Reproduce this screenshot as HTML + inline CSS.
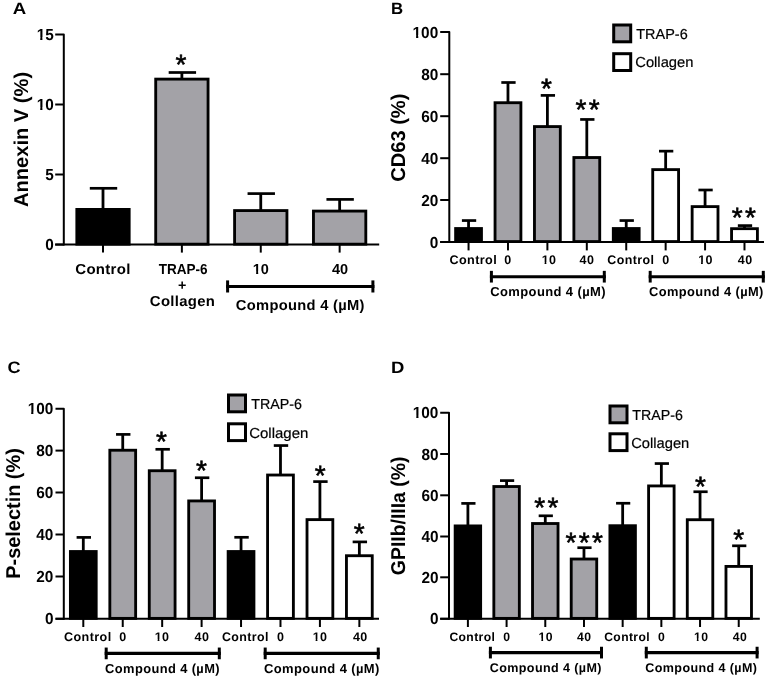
<!DOCTYPE html>
<html><head><meta charset="utf-8"><style>
html,body{margin:0;padding:0;background:#fff;}
svg{display:block;will-change:transform;font-family:"Liberation Sans",sans-serif;}
</style></head><body>
<svg width="767" height="678" viewBox="0 0 767 678" text-rendering="geometricPrecision">
<rect width="767" height="678" fill="#fff"/>
<path d="M55.20,34.40 H63.80 V245.60" fill="none" stroke="#000" stroke-width="2.0" stroke-linejoin="round"/>
<line x1="55.20" y1="244.60" x2="379.20" y2="244.60" stroke="#000" stroke-width="2.0"/>
<line x1="55.20" y1="104.50" x2="63.80" y2="104.50" stroke="#000" stroke-width="2.0"/>
<line x1="55.20" y1="174.50" x2="63.80" y2="174.50" stroke="#000" stroke-width="2.0"/>
<line x1="55.20" y1="244.60" x2="63.80" y2="244.60" stroke="#000" stroke-width="2.0"/>
<line x1="103.00" y1="209.00" x2="103.00" y2="188.30" stroke="#000" stroke-width="2.8"/>
<line x1="89.80" y1="188.30" x2="117.20" y2="188.30" stroke="#000" stroke-width="2.7"/>
<rect x="76.83" y="209.43" width="52.35" height="34.75" fill="#000" stroke="#000" stroke-width="2.85"/>
<line x1="103.00" y1="244.60" x2="103.00" y2="252.60" stroke="#000" stroke-width="2.0"/>
<line x1="181.88" y1="78.70" x2="181.88" y2="72.50" stroke="#000" stroke-width="2.8"/>
<line x1="168.68" y1="72.50" x2="196.08" y2="72.50" stroke="#000" stroke-width="2.7"/>
<rect x="155.71" y="79.12" width="52.35" height="165.05" fill="#a3a2a7" stroke="#000" stroke-width="2.85"/>
<line x1="181.88" y1="244.60" x2="181.88" y2="252.60" stroke="#000" stroke-width="2.0"/>
<line x1="260.76" y1="210.15" x2="260.76" y2="193.60" stroke="#000" stroke-width="2.8"/>
<line x1="247.56" y1="193.60" x2="274.96" y2="193.60" stroke="#000" stroke-width="2.7"/>
<rect x="234.59" y="210.58" width="52.35" height="33.60" fill="#a3a2a7" stroke="#000" stroke-width="2.85"/>
<line x1="260.76" y1="244.60" x2="260.76" y2="252.60" stroke="#000" stroke-width="2.0"/>
<line x1="339.64" y1="210.65" x2="339.64" y2="199.40" stroke="#000" stroke-width="2.8"/>
<line x1="326.44" y1="199.40" x2="353.84" y2="199.40" stroke="#000" stroke-width="2.7"/>
<rect x="313.46" y="211.08" width="52.35" height="33.10" fill="#a3a2a7" stroke="#000" stroke-width="2.85"/>
<line x1="339.64" y1="244.60" x2="339.64" y2="252.60" stroke="#000" stroke-width="2.0"/>
<line x1="226.10" y1="286.45" x2="374.40" y2="286.45" stroke="#000" stroke-width="3.1"/>
<line x1="227.60" y1="280.40" x2="227.60" y2="292.50" stroke="#000" stroke-width="3.0"/>
<line x1="372.90" y1="280.40" x2="372.90" y2="292.50" stroke="#000" stroke-width="3.0"/>
<path d="M440.20,32.00 H449.30 V243.00" fill="none" stroke="#000" stroke-width="2.0" stroke-linejoin="round"/>
<line x1="440.20" y1="242.00" x2="764.00" y2="242.00" stroke="#000" stroke-width="2.0"/>
<line x1="440.20" y1="74.20" x2="449.30" y2="74.20" stroke="#000" stroke-width="2.0"/>
<line x1="440.20" y1="116.20" x2="449.30" y2="116.20" stroke="#000" stroke-width="2.0"/>
<line x1="440.20" y1="158.20" x2="449.30" y2="158.20" stroke="#000" stroke-width="2.0"/>
<line x1="440.20" y1="200.00" x2="449.30" y2="200.00" stroke="#000" stroke-width="2.0"/>
<line x1="440.20" y1="242.00" x2="449.30" y2="242.00" stroke="#000" stroke-width="2.0"/>
<line x1="468.55" y1="228.10" x2="468.55" y2="220.55" stroke="#000" stroke-width="2.8"/>
<line x1="461.90" y1="220.55" x2="476.20" y2="220.55" stroke="#000" stroke-width="2.7"/>
<rect x="455.62" y="228.53" width="25.85" height="13.05" fill="#000" stroke="#000" stroke-width="2.85"/>
<line x1="468.55" y1="242.00" x2="468.55" y2="250.40" stroke="#000" stroke-width="2.0"/>
<line x1="507.97" y1="102.30" x2="507.97" y2="82.50" stroke="#000" stroke-width="2.8"/>
<line x1="501.32" y1="82.50" x2="515.62" y2="82.50" stroke="#000" stroke-width="2.7"/>
<rect x="495.05" y="102.72" width="25.85" height="138.85" fill="#a3a2a7" stroke="#000" stroke-width="2.85"/>
<line x1="507.97" y1="242.00" x2="507.97" y2="250.40" stroke="#000" stroke-width="2.0"/>
<line x1="547.39" y1="126.15" x2="547.39" y2="95.40" stroke="#000" stroke-width="2.8"/>
<line x1="540.74" y1="95.40" x2="555.04" y2="95.40" stroke="#000" stroke-width="2.7"/>
<rect x="534.46" y="126.58" width="25.85" height="115.00" fill="#a3a2a7" stroke="#000" stroke-width="2.85"/>
<line x1="547.39" y1="242.00" x2="547.39" y2="250.40" stroke="#000" stroke-width="2.0"/>
<line x1="586.81" y1="157.10" x2="586.81" y2="119.45" stroke="#000" stroke-width="2.8"/>
<line x1="580.16" y1="119.45" x2="594.46" y2="119.45" stroke="#000" stroke-width="2.7"/>
<rect x="573.88" y="157.53" width="25.85" height="84.05" fill="#a3a2a7" stroke="#000" stroke-width="2.85"/>
<line x1="586.81" y1="242.00" x2="586.81" y2="250.40" stroke="#000" stroke-width="2.0"/>
<line x1="626.23" y1="228.10" x2="626.23" y2="220.55" stroke="#000" stroke-width="2.8"/>
<line x1="619.58" y1="220.55" x2="633.88" y2="220.55" stroke="#000" stroke-width="2.7"/>
<rect x="613.30" y="228.53" width="25.85" height="13.05" fill="#000" stroke="#000" stroke-width="2.85"/>
<line x1="626.23" y1="242.00" x2="626.23" y2="250.40" stroke="#000" stroke-width="2.0"/>
<line x1="665.65" y1="169.20" x2="665.65" y2="151.15" stroke="#000" stroke-width="2.8"/>
<line x1="659.00" y1="151.15" x2="673.30" y2="151.15" stroke="#000" stroke-width="2.7"/>
<rect x="652.73" y="169.62" width="25.85" height="71.95" fill="#fff" stroke="#000" stroke-width="2.85"/>
<line x1="665.65" y1="242.00" x2="665.65" y2="250.40" stroke="#000" stroke-width="2.0"/>
<line x1="705.07" y1="206.20" x2="705.07" y2="190.00" stroke="#000" stroke-width="2.8"/>
<line x1="698.42" y1="190.00" x2="712.72" y2="190.00" stroke="#000" stroke-width="2.7"/>
<rect x="692.14" y="206.62" width="25.85" height="34.95" fill="#fff" stroke="#000" stroke-width="2.85"/>
<line x1="705.07" y1="242.00" x2="705.07" y2="250.40" stroke="#000" stroke-width="2.0"/>
<line x1="744.49" y1="228.25" x2="744.49" y2="225.60" stroke="#000" stroke-width="2.8"/>
<line x1="737.84" y1="225.60" x2="752.14" y2="225.60" stroke="#000" stroke-width="2.7"/>
<rect x="731.56" y="228.68" width="25.85" height="12.90" fill="#fff" stroke="#000" stroke-width="2.85"/>
<line x1="744.49" y1="242.00" x2="744.49" y2="250.40" stroke="#000" stroke-width="2.0"/>
<rect x="613.7" y="25.0" width="17.0" height="16.8" fill="#a3a2a7" stroke="#000" stroke-width="3.0"/>
<rect x="613.7" y="53.7" width="17.0" height="16.8" fill="#fff" stroke="#000" stroke-width="3.0"/>
<line x1="489.90" y1="276.70" x2="605.80" y2="276.70" stroke="#000" stroke-width="3.1"/>
<line x1="491.40" y1="270.85" x2="491.40" y2="282.55" stroke="#000" stroke-width="3.0"/>
<line x1="604.30" y1="270.85" x2="604.30" y2="282.55" stroke="#000" stroke-width="3.0"/>
<line x1="648.70" y1="276.70" x2="764.80" y2="276.70" stroke="#000" stroke-width="3.1"/>
<line x1="650.20" y1="270.85" x2="650.20" y2="282.55" stroke="#000" stroke-width="3.0"/>
<line x1="763.30" y1="270.85" x2="763.30" y2="282.55" stroke="#000" stroke-width="3.0"/>
<path d="M55.50,408.80 H63.80 V619.80" fill="none" stroke="#000" stroke-width="2.0" stroke-linejoin="round"/>
<line x1="55.50" y1="618.80" x2="379.00" y2="618.80" stroke="#000" stroke-width="2.0"/>
<line x1="55.50" y1="450.60" x2="63.80" y2="450.60" stroke="#000" stroke-width="2.0"/>
<line x1="55.50" y1="492.50" x2="63.80" y2="492.50" stroke="#000" stroke-width="2.0"/>
<line x1="55.50" y1="534.50" x2="63.80" y2="534.50" stroke="#000" stroke-width="2.0"/>
<line x1="55.50" y1="576.50" x2="63.80" y2="576.50" stroke="#000" stroke-width="2.0"/>
<line x1="55.50" y1="618.80" x2="63.80" y2="618.80" stroke="#000" stroke-width="2.0"/>
<line x1="83.30" y1="551.10" x2="83.30" y2="537.40" stroke="#000" stroke-width="2.8"/>
<line x1="76.60" y1="537.40" x2="91.00" y2="537.40" stroke="#000" stroke-width="2.7"/>
<rect x="70.40" y="551.52" width="25.80" height="66.85" fill="#000" stroke="#000" stroke-width="2.85"/>
<line x1="83.30" y1="618.80" x2="83.30" y2="627.00" stroke="#000" stroke-width="2.0"/>
<line x1="122.74" y1="449.80" x2="122.74" y2="434.40" stroke="#000" stroke-width="2.8"/>
<line x1="116.04" y1="434.40" x2="130.44" y2="434.40" stroke="#000" stroke-width="2.7"/>
<rect x="109.84" y="450.23" width="25.80" height="168.15" fill="#a3a2a7" stroke="#000" stroke-width="2.85"/>
<line x1="122.74" y1="618.80" x2="122.74" y2="627.00" stroke="#000" stroke-width="2.0"/>
<line x1="162.17" y1="470.30" x2="162.17" y2="449.30" stroke="#000" stroke-width="2.8"/>
<line x1="155.47" y1="449.30" x2="169.87" y2="449.30" stroke="#000" stroke-width="2.7"/>
<rect x="149.27" y="470.73" width="25.80" height="147.65" fill="#a3a2a7" stroke="#000" stroke-width="2.85"/>
<line x1="162.17" y1="618.80" x2="162.17" y2="627.00" stroke="#000" stroke-width="2.0"/>
<line x1="201.61" y1="500.50" x2="201.61" y2="477.75" stroke="#000" stroke-width="2.8"/>
<line x1="194.91" y1="477.75" x2="209.31" y2="477.75" stroke="#000" stroke-width="2.7"/>
<rect x="188.71" y="500.93" width="25.80" height="117.45" fill="#a3a2a7" stroke="#000" stroke-width="2.85"/>
<line x1="201.61" y1="618.80" x2="201.61" y2="627.00" stroke="#000" stroke-width="2.0"/>
<line x1="241.04" y1="551.10" x2="241.04" y2="537.30" stroke="#000" stroke-width="2.8"/>
<line x1="234.34" y1="537.30" x2="248.74" y2="537.30" stroke="#000" stroke-width="2.7"/>
<rect x="228.14" y="551.52" width="25.80" height="66.85" fill="#000" stroke="#000" stroke-width="2.85"/>
<line x1="241.04" y1="618.80" x2="241.04" y2="627.00" stroke="#000" stroke-width="2.0"/>
<line x1="280.48" y1="474.60" x2="280.48" y2="445.55" stroke="#000" stroke-width="2.8"/>
<line x1="273.78" y1="445.55" x2="288.18" y2="445.55" stroke="#000" stroke-width="2.7"/>
<rect x="267.58" y="475.03" width="25.80" height="143.35" fill="#fff" stroke="#000" stroke-width="2.85"/>
<line x1="280.48" y1="618.80" x2="280.48" y2="627.00" stroke="#000" stroke-width="2.0"/>
<line x1="319.92" y1="519.20" x2="319.92" y2="481.60" stroke="#000" stroke-width="2.8"/>
<line x1="313.22" y1="481.60" x2="327.62" y2="481.60" stroke="#000" stroke-width="2.7"/>
<rect x="307.02" y="519.62" width="25.80" height="98.75" fill="#fff" stroke="#000" stroke-width="2.85"/>
<line x1="319.92" y1="618.80" x2="319.92" y2="627.00" stroke="#000" stroke-width="2.0"/>
<line x1="359.35" y1="555.30" x2="359.35" y2="541.90" stroke="#000" stroke-width="2.8"/>
<line x1="352.65" y1="541.90" x2="367.05" y2="541.90" stroke="#000" stroke-width="2.7"/>
<rect x="346.45" y="555.72" width="25.80" height="62.65" fill="#fff" stroke="#000" stroke-width="2.85"/>
<line x1="359.35" y1="618.80" x2="359.35" y2="627.00" stroke="#000" stroke-width="2.0"/>
<rect x="228.5" y="395.0" width="17.0" height="16.8" fill="#a3a2a7" stroke="#000" stroke-width="3.0"/>
<rect x="228.5" y="423.8" width="17.0" height="16.8" fill="#fff" stroke="#000" stroke-width="3.0"/>
<line x1="104.70" y1="653.40" x2="220.80" y2="653.40" stroke="#000" stroke-width="3.1"/>
<line x1="106.20" y1="647.55" x2="106.20" y2="659.25" stroke="#000" stroke-width="3.0"/>
<line x1="219.30" y1="647.55" x2="219.30" y2="659.25" stroke="#000" stroke-width="3.0"/>
<line x1="263.70" y1="653.40" x2="379.75" y2="653.40" stroke="#000" stroke-width="3.1"/>
<line x1="265.20" y1="647.55" x2="265.20" y2="659.25" stroke="#000" stroke-width="3.0"/>
<line x1="378.25" y1="647.55" x2="378.25" y2="659.25" stroke="#000" stroke-width="3.0"/>
<path d="M440.20,412.80 H449.00 V619.80" fill="none" stroke="#000" stroke-width="2.0" stroke-linejoin="round"/>
<line x1="440.20" y1="618.80" x2="759.80" y2="618.80" stroke="#000" stroke-width="2.0"/>
<line x1="440.20" y1="454.00" x2="449.00" y2="454.00" stroke="#000" stroke-width="2.0"/>
<line x1="440.20" y1="495.30" x2="449.00" y2="495.30" stroke="#000" stroke-width="2.0"/>
<line x1="440.20" y1="536.50" x2="449.00" y2="536.50" stroke="#000" stroke-width="2.0"/>
<line x1="440.20" y1="577.30" x2="449.00" y2="577.30" stroke="#000" stroke-width="2.0"/>
<line x1="440.20" y1="618.80" x2="449.00" y2="618.80" stroke="#000" stroke-width="2.0"/>
<line x1="467.90" y1="525.50" x2="467.90" y2="503.40" stroke="#000" stroke-width="2.8"/>
<line x1="461.30" y1="503.40" x2="475.50" y2="503.40" stroke="#000" stroke-width="2.7"/>
<rect x="455.15" y="525.92" width="25.50" height="92.45" fill="#000" stroke="#000" stroke-width="2.85"/>
<line x1="467.90" y1="618.80" x2="467.90" y2="627.00" stroke="#000" stroke-width="2.0"/>
<line x1="506.59" y1="486.10" x2="506.59" y2="480.60" stroke="#000" stroke-width="2.8"/>
<line x1="499.99" y1="480.60" x2="514.19" y2="480.60" stroke="#000" stroke-width="2.7"/>
<rect x="493.84" y="486.53" width="25.50" height="131.85" fill="#a3a2a7" stroke="#000" stroke-width="2.85"/>
<line x1="506.59" y1="618.80" x2="506.59" y2="627.00" stroke="#000" stroke-width="2.0"/>
<line x1="545.28" y1="523.10" x2="545.28" y2="515.80" stroke="#000" stroke-width="2.8"/>
<line x1="538.68" y1="515.80" x2="552.88" y2="515.80" stroke="#000" stroke-width="2.7"/>
<rect x="532.53" y="523.52" width="25.50" height="94.85" fill="#a3a2a7" stroke="#000" stroke-width="2.85"/>
<line x1="545.28" y1="618.80" x2="545.28" y2="627.00" stroke="#000" stroke-width="2.0"/>
<line x1="583.97" y1="558.60" x2="583.97" y2="547.70" stroke="#000" stroke-width="2.8"/>
<line x1="577.37" y1="547.70" x2="591.57" y2="547.70" stroke="#000" stroke-width="2.7"/>
<rect x="571.22" y="559.02" width="25.50" height="59.35" fill="#a3a2a7" stroke="#000" stroke-width="2.85"/>
<line x1="583.97" y1="618.80" x2="583.97" y2="627.00" stroke="#000" stroke-width="2.0"/>
<line x1="622.66" y1="525.30" x2="622.66" y2="503.25" stroke="#000" stroke-width="2.8"/>
<line x1="616.06" y1="503.25" x2="630.26" y2="503.25" stroke="#000" stroke-width="2.7"/>
<rect x="609.91" y="525.72" width="25.50" height="92.65" fill="#000" stroke="#000" stroke-width="2.85"/>
<line x1="622.66" y1="618.80" x2="622.66" y2="627.00" stroke="#000" stroke-width="2.0"/>
<line x1="661.35" y1="485.50" x2="661.35" y2="463.55" stroke="#000" stroke-width="2.8"/>
<line x1="654.75" y1="463.55" x2="668.95" y2="463.55" stroke="#000" stroke-width="2.7"/>
<rect x="648.60" y="485.93" width="25.50" height="132.45" fill="#fff" stroke="#000" stroke-width="2.85"/>
<line x1="661.35" y1="618.80" x2="661.35" y2="627.00" stroke="#000" stroke-width="2.0"/>
<line x1="700.04" y1="519.30" x2="700.04" y2="491.75" stroke="#000" stroke-width="2.8"/>
<line x1="693.44" y1="491.75" x2="707.64" y2="491.75" stroke="#000" stroke-width="2.7"/>
<rect x="687.29" y="519.72" width="25.50" height="98.65" fill="#fff" stroke="#000" stroke-width="2.85"/>
<line x1="700.04" y1="618.80" x2="700.04" y2="627.00" stroke="#000" stroke-width="2.0"/>
<line x1="738.73" y1="566.00" x2="738.73" y2="545.80" stroke="#000" stroke-width="2.8"/>
<line x1="732.13" y1="545.80" x2="746.33" y2="545.80" stroke="#000" stroke-width="2.7"/>
<rect x="725.98" y="566.42" width="25.50" height="51.95" fill="#fff" stroke="#000" stroke-width="2.85"/>
<line x1="738.73" y1="618.80" x2="738.73" y2="627.00" stroke="#000" stroke-width="2.0"/>
<rect x="610.0" y="406.0" width="17.0" height="16.8" fill="#a3a2a7" stroke="#000" stroke-width="3.0"/>
<rect x="610.0" y="433.8" width="17.0" height="16.8" fill="#fff" stroke="#000" stroke-width="3.0"/>
<line x1="488.90" y1="652.60" x2="603.00" y2="652.60" stroke="#000" stroke-width="3.1"/>
<line x1="490.40" y1="646.75" x2="490.40" y2="658.45" stroke="#000" stroke-width="3.0"/>
<line x1="601.50" y1="646.75" x2="601.50" y2="658.45" stroke="#000" stroke-width="3.0"/>
<line x1="644.80" y1="652.60" x2="758.60" y2="652.60" stroke="#000" stroke-width="3.1"/>
<line x1="646.30" y1="646.75" x2="646.30" y2="658.45" stroke="#000" stroke-width="3.0"/>
<line x1="757.10" y1="646.75" x2="757.10" y2="658.45" stroke="#000" stroke-width="3.0"/>
<text transform="translate(12.77,14.40) scale(1.130,1)" font-size="16.5" font-weight="bold">A</text>
<text transform="translate(36.68,40.00) scale(0.960,1)" font-size="16" font-weight="bold">15</text>
<g transform="translate(36.68,40.00) scale(0.960,1)" fill="#fff"><rect x="0.01" y="-2.63" width="3.69" height="3.63"/><rect x="5.97" y="-2.63" width="3.52" height="3.63"/></g>
<text transform="translate(36.68,110.10) scale(0.960,1)" font-size="16" font-weight="bold">10</text>
<g transform="translate(36.68,110.10) scale(0.960,1)" fill="#fff"><rect x="0.01" y="-2.63" width="3.69" height="3.63"/><rect x="5.97" y="-2.63" width="3.52" height="3.63"/></g>
<text transform="translate(45.32,180.10) scale(0.960,1)" font-size="16" font-weight="bold">5</text>
<text transform="translate(45.32,250.20) scale(0.960,1)" font-size="16" font-weight="bold">0</text>
<text transform="translate(175.60,73.60) scale(1.000,1)" font-size="28" font-weight="normal" stroke="#000" stroke-width="0.6">*</text>
<text transform="translate(28.20,207.11) rotate(-90) scale(1.006,1)" font-size="20" font-weight="bold">Annexin V (%)</text>
<text transform="translate(75.27,273.60) scale(1.033,1)" font-size="14.5" font-weight="bold" letter-spacing="0.3">Control</text>
<text transform="translate(158.70,273.60) scale(0.935,1)" font-size="14.5" font-weight="bold">TRAP-6</text>
<text transform="translate(177.91,289.95) scale(0.986,1)" font-size="14.5" font-weight="bold">+</text>
<text transform="translate(149.87,305.95) scale(1.026,1)" font-size="14.5" font-weight="bold" letter-spacing="0.3">Collagen</text>
<text transform="translate(252.80,273.85) scale(1.000,1)" font-size="14.5" font-weight="bold">10</text>
<g transform="translate(252.80,273.85) scale(1.000,1)" fill="#fff"><rect x="-0.09" y="-2.48" width="3.43" height="3.48"/><rect x="5.41" y="-2.48" width="3.29" height="3.48"/></g>
<text transform="translate(331.95,273.85) scale(1.000,1)" font-size="14.5" font-weight="bold">40</text>
<text transform="translate(235.79,309.85) scale(1.014,1)" font-size="14.5" font-weight="bold" letter-spacing="0.3">Compound 4 (µM)</text>
<text transform="translate(390.98,14.40) scale(1.020,1)" font-size="16.5" font-weight="bold">B</text>
<text transform="translate(412.54,37.60) scale(0.960,1)" font-size="16" font-weight="bold">100</text>
<g transform="translate(412.54,37.60) scale(0.960,1)" fill="#fff"><rect x="0.01" y="-2.63" width="3.69" height="3.63"/><rect x="5.97" y="-2.63" width="3.52" height="3.63"/></g>
<text transform="translate(421.18,79.80) scale(0.960,1)" font-size="16" font-weight="bold">80</text>
<text transform="translate(421.18,121.80) scale(0.960,1)" font-size="16" font-weight="bold">60</text>
<text transform="translate(421.18,163.80) scale(0.960,1)" font-size="16" font-weight="bold">40</text>
<text transform="translate(421.18,205.60) scale(0.960,1)" font-size="16" font-weight="bold">20</text>
<text transform="translate(429.82,247.60) scale(0.960,1)" font-size="16" font-weight="bold">0</text>
<text transform="translate(541.05,97.70) scale(1.000,1)" font-size="28" font-weight="normal" stroke="#000" stroke-width="0.6">*</text>
<text transform="translate(575.45,119.10) scale(1.000,1)" font-size="28" font-weight="normal" letter-spacing="2.4" stroke="#000" stroke-width="0.6">**</text>
<text transform="translate(731.75,227.20) scale(1.000,1)" font-size="28" font-weight="normal" letter-spacing="2.4" stroke="#000" stroke-width="0.6">**</text>
<text transform="translate(404.55,181.70) rotate(-90) scale(1.003,1)" font-size="20" font-weight="bold">CD63 (%)</text>
<text transform="translate(636.30,39.10) scale(0.996,1)" font-size="14.5" font-weight="normal" stroke="#000" stroke-width="0.2">TRAP-6</text>
<text transform="translate(635.29,67.40) scale(1.015,1)" font-size="14.5" font-weight="normal" stroke="#000" stroke-width="0.2">Collagen</text>
<text transform="translate(449.39,264.40) scale(1.011,1)" font-size="12.5" font-weight="bold" letter-spacing="0.4">Control</text>
<text transform="translate(504.30,264.40) scale(1.000,1)" font-size="12.5" font-weight="bold" letter-spacing="0.4">0</text>
<text transform="translate(541.70,264.40) scale(1.000,1)" font-size="12.5" font-weight="bold" letter-spacing="0.4">10</text>
<g transform="translate(541.70,264.40) scale(1.000,1)" fill="#fff"><rect x="-0.21" y="-2.28" width="3.09" height="3.28"/><rect x="4.67" y="-2.28" width="2.97" height="3.28"/></g>
<text transform="translate(579.55,264.40) scale(1.000,1)" font-size="12.5" font-weight="bold" letter-spacing="0.4">40</text>
<text transform="translate(607.30,264.40) scale(0.996,1)" font-size="12.5" font-weight="bold" letter-spacing="0.4">Control</text>
<text transform="translate(662.25,264.40) scale(1.000,1)" font-size="12.5" font-weight="bold" letter-spacing="0.4">0</text>
<text transform="translate(698.15,264.40) scale(1.000,1)" font-size="12.5" font-weight="bold" letter-spacing="0.4">10</text>
<g transform="translate(698.15,264.40) scale(1.000,1)" fill="#fff"><rect x="-0.21" y="-2.28" width="3.09" height="3.28"/><rect x="4.67" y="-2.28" width="2.97" height="3.28"/></g>
<text transform="translate(737.85,264.40) scale(1.000,1)" font-size="12.5" font-weight="bold" letter-spacing="0.4">40</text>
<text transform="translate(490.20,296.25) scale(0.998,1)" font-size="13" font-weight="bold" letter-spacing="0.4">Compound 4 (µM)</text>
<text transform="translate(649.11,296.25) scale(0.988,1)" font-size="13" font-weight="bold" letter-spacing="0.4">Compound 4 (µM)</text>
<text transform="translate(7.50,373.45) scale(1.095,1)" font-size="16.5" font-weight="bold">C</text>
<text transform="translate(27.64,414.40) scale(0.960,1)" font-size="16" font-weight="bold">100</text>
<g transform="translate(27.64,414.40) scale(0.960,1)" fill="#fff"><rect x="0.01" y="-2.63" width="3.69" height="3.63"/><rect x="5.97" y="-2.63" width="3.52" height="3.63"/></g>
<text transform="translate(36.28,456.20) scale(0.960,1)" font-size="16" font-weight="bold">80</text>
<text transform="translate(36.28,498.10) scale(0.960,1)" font-size="16" font-weight="bold">60</text>
<text transform="translate(36.28,540.10) scale(0.960,1)" font-size="16" font-weight="bold">40</text>
<text transform="translate(36.28,582.10) scale(0.960,1)" font-size="16" font-weight="bold">20</text>
<text transform="translate(44.92,624.40) scale(0.960,1)" font-size="16" font-weight="bold">0</text>
<text transform="translate(156.05,451.10) scale(1.000,1)" font-size="28" font-weight="normal" stroke="#000" stroke-width="0.6">*</text>
<text transform="translate(195.95,480.35) scale(1.000,1)" font-size="28" font-weight="normal" stroke="#000" stroke-width="0.6">*</text>
<text transform="translate(314.80,484.90) scale(1.000,1)" font-size="28" font-weight="normal" stroke="#000" stroke-width="0.6">*</text>
<text transform="translate(353.80,543.45) scale(1.000,1)" font-size="28" font-weight="normal" stroke="#000" stroke-width="0.6">*</text>
<text transform="translate(19.55,578.69) rotate(-90) scale(0.995,1)" font-size="20" font-weight="bold">P-selectin (%)</text>
<text transform="translate(251.25,409.40) scale(0.985,1)" font-size="14.5" font-weight="normal" stroke="#000" stroke-width="0.2">TRAP-6</text>
<text transform="translate(249.22,438.12) scale(1.032,1)" font-size="14.5" font-weight="normal" stroke="#000" stroke-width="0.2">Collagen</text>
<text transform="translate(63.99,641.40) scale(1.007,1)" font-size="12.5" font-weight="bold" letter-spacing="0.4">Control</text>
<text transform="translate(119.30,641.40) scale(1.000,1)" font-size="12.5" font-weight="bold" letter-spacing="0.4">0</text>
<text transform="translate(154.75,641.40) scale(1.000,1)" font-size="12.5" font-weight="bold" letter-spacing="0.4">10</text>
<g transform="translate(154.75,641.40) scale(1.000,1)" fill="#fff"><rect x="-0.21" y="-2.28" width="3.09" height="3.28"/><rect x="4.67" y="-2.28" width="2.97" height="3.28"/></g>
<text transform="translate(194.55,641.40) scale(1.000,1)" font-size="12.5" font-weight="bold" letter-spacing="0.4">40</text>
<text transform="translate(221.91,641.40) scale(0.993,1)" font-size="12.5" font-weight="bold" letter-spacing="0.4">Control</text>
<text transform="translate(277.05,641.40) scale(1.000,1)" font-size="12.5" font-weight="bold" letter-spacing="0.4">0</text>
<text transform="translate(312.75,641.40) scale(1.000,1)" font-size="12.5" font-weight="bold" letter-spacing="0.4">10</text>
<g transform="translate(312.75,641.40) scale(1.000,1)" fill="#fff"><rect x="-0.21" y="-2.28" width="3.09" height="3.28"/><rect x="4.67" y="-2.28" width="2.97" height="3.28"/></g>
<text transform="translate(352.90,641.40) scale(1.000,1)" font-size="12.5" font-weight="bold" letter-spacing="0.4">40</text>
<text transform="translate(105.11,672.85) scale(0.990,1)" font-size="13" font-weight="bold" letter-spacing="0.4">Compound 4 (µM)</text>
<text transform="translate(264.00,672.85) scale(0.998,1)" font-size="13" font-weight="bold" letter-spacing="0.4">Compound 4 (µM)</text>
<text transform="translate(390.88,373.30) scale(1.120,1)" font-size="16.5" font-weight="bold">D</text>
<text transform="translate(412.74,418.40) scale(0.960,1)" font-size="16" font-weight="bold">100</text>
<g transform="translate(412.74,418.40) scale(0.960,1)" fill="#fff"><rect x="0.01" y="-2.63" width="3.69" height="3.63"/><rect x="5.97" y="-2.63" width="3.52" height="3.63"/></g>
<text transform="translate(421.38,459.60) scale(0.960,1)" font-size="16" font-weight="bold">80</text>
<text transform="translate(421.38,500.90) scale(0.960,1)" font-size="16" font-weight="bold">60</text>
<text transform="translate(421.38,542.10) scale(0.960,1)" font-size="16" font-weight="bold">40</text>
<text transform="translate(421.38,582.90) scale(0.960,1)" font-size="16" font-weight="bold">20</text>
<text transform="translate(430.02,624.40) scale(0.960,1)" font-size="16" font-weight="bold">0</text>
<text transform="translate(534.15,517.45) scale(1.000,1)" font-size="28" font-weight="normal" letter-spacing="2.4" stroke="#000" stroke-width="0.6">**</text>
<text transform="translate(565.45,551.55) scale(1.000,1)" font-size="28" font-weight="normal" letter-spacing="2.4" stroke="#000" stroke-width="0.6">***</text>
<text transform="translate(695.10,496.10) scale(1.000,1)" font-size="28" font-weight="normal" stroke="#000" stroke-width="0.6">*</text>
<text transform="translate(733.15,548.70) scale(1.000,1)" font-size="28" font-weight="normal" stroke="#000" stroke-width="0.6">*</text>
<text transform="translate(405.05,575.17) rotate(-90) scale(0.971,1)" font-size="20" font-weight="bold">GPIIb/IIIa (%)</text>
<text transform="translate(632.25,420.00) scale(0.980,1)" font-size="14.5" font-weight="normal" stroke="#000" stroke-width="0.2">TRAP-6</text>
<text transform="translate(631.24,447.62) scale(1.014,1)" font-size="14.5" font-weight="normal" stroke="#000" stroke-width="0.2">Collagen</text>
<text transform="translate(449.40,641.15) scale(0.995,1)" font-size="12.2" font-weight="bold" letter-spacing="0.4">Control</text>
<text transform="translate(503.25,640.65) scale(1.000,1)" font-size="12.2" font-weight="bold" letter-spacing="0.4">0</text>
<text transform="translate(538.55,640.65) scale(1.000,1)" font-size="12.2" font-weight="bold" letter-spacing="0.4">10</text>
<g transform="translate(538.55,640.65) scale(1.000,1)" fill="#fff"><rect x="-0.23" y="-2.25" width="3.04" height="3.25"/><rect x="4.56" y="-2.25" width="2.92" height="3.25"/></g>
<text transform="translate(577.10,640.65) scale(1.000,1)" font-size="12.2" font-weight="bold" letter-spacing="0.4">40</text>
<text transform="translate(604.21,641.15) scale(0.993,1)" font-size="12.2" font-weight="bold" letter-spacing="0.4">Control</text>
<text transform="translate(658.05,640.65) scale(1.000,1)" font-size="12.2" font-weight="bold" letter-spacing="0.4">0</text>
<text transform="translate(694.00,640.65) scale(1.000,1)" font-size="12.2" font-weight="bold" letter-spacing="0.4">10</text>
<g transform="translate(694.00,640.65) scale(1.000,1)" fill="#fff"><rect x="-0.23" y="-2.25" width="3.04" height="3.25"/><rect x="4.56" y="-2.25" width="2.92" height="3.25"/></g>
<text transform="translate(732.80,640.65) scale(1.000,1)" font-size="12.2" font-weight="bold" letter-spacing="0.4">40</text>
<text transform="translate(489.70,671.95) scale(0.996,1)" font-size="12.6" font-weight="bold" letter-spacing="0.4">Compound 4 (µM)</text>
<text transform="translate(645.31,671.95) scale(0.995,1)" font-size="12.6" font-weight="bold" letter-spacing="0.4">Compound 4 (µM)</text>
</svg>
</body></html>
